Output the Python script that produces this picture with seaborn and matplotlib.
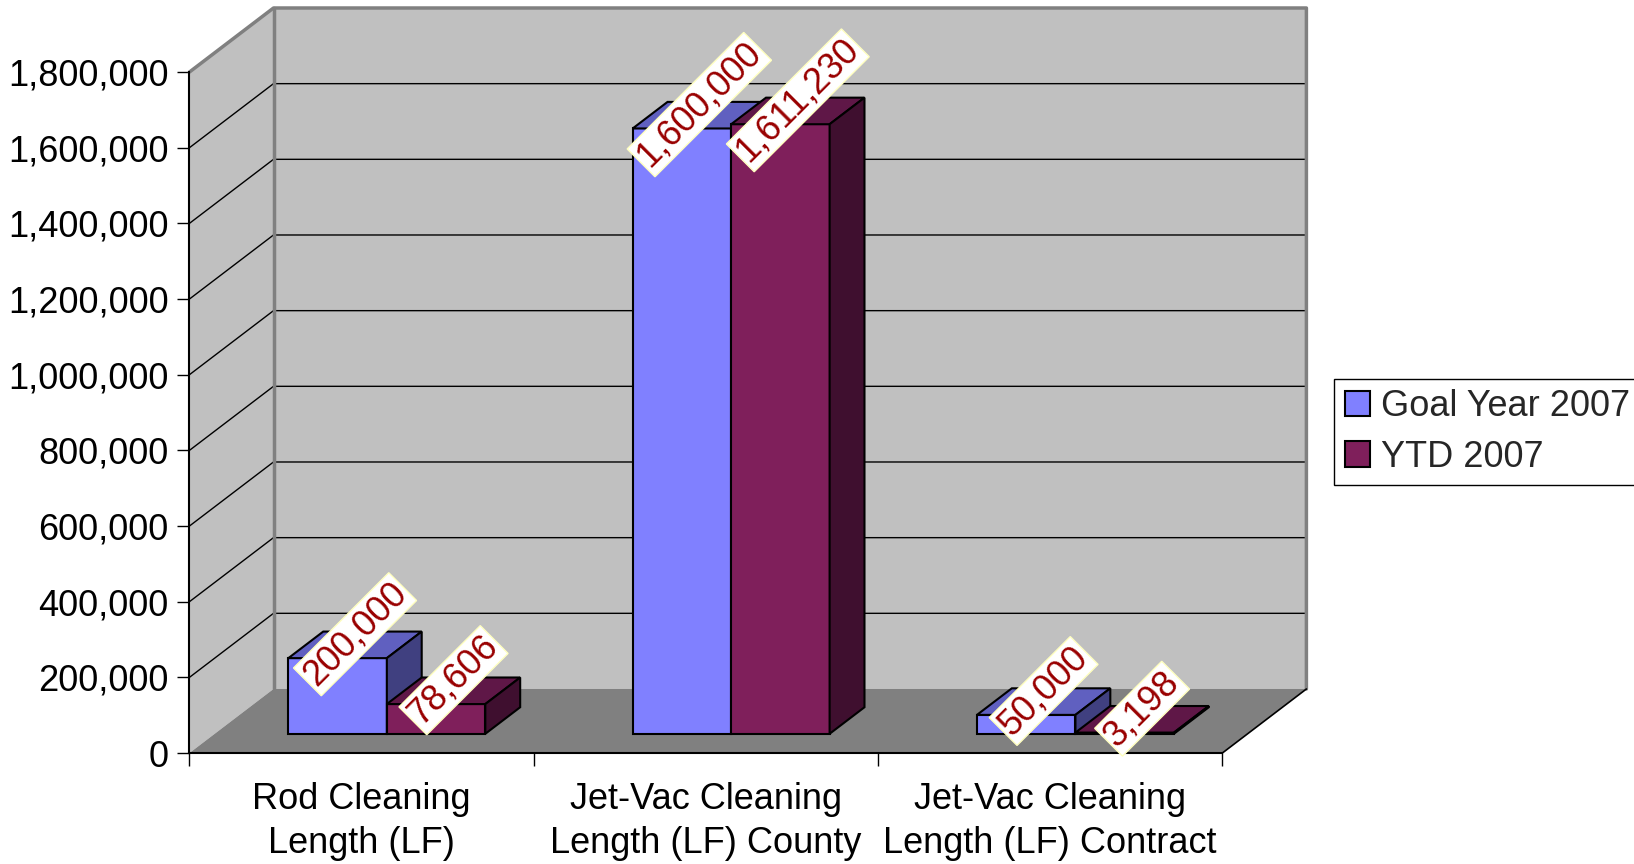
import numpy as np
import pandas as pd
import seaborn as sns
import matplotlib.pyplot as plt
from matplotlib.patches import Patch

categories = ["Rod Cleaning\nLength (LF)",
              "Jet-Vac Cleaning\nLength (LF) County",
              "Jet-Vac Cleaning\nLength (LF) Contract"]
series = ["Goal Year 2007", "YTD 2007"]
goal = [200000, 1600000, 50000]
ytd = [78606, 1611230, 3198]
yticks = list(range(0, 1800001, 200000))

front_colors = {"Goal Year 2007": "#8080FF", "YTD 2007": "#7F1F5B"}
top_colors = {"Goal Year 2007": "#6060C0", "YTD 2007": "#5F1747"}
side_colors = {"Goal Year 2007": "#404080", "YTD 2007": "#3F0F2F"}

df = pd.DataFrame({
    "category": categories * 2,
    "series": [series[0]] * 3 + [series[1]] * 3,
    "value": goal + ytd,
})

sns.set_style("white")
plt.rcParams['font.family'] = ['Liberation Sans', 'DejaVu Sans']

fig = plt.figure(figsize=(16.34, 8.64), dpi=100)
ax = fig.add_axes([0.11597, 0.12847, 0.63213, 0.78819])
ax.set_facecolor('none')

ymax = 1800000
x0, x1 = -0.5, 2.5
ddx, ddy = 0.244, 169200  # depth of the floor (front axis -> back wall)

# walls and floor
ax.fill([x0, x0 + ddx, x0 + ddx, x0], [0, ddy, ymax + ddy, ymax],
        color='#C0C0C0', lw=0, clip_on=False, zorder=0.5)
ax.fill([x0 + ddx, x1 + ddx, x1 + ddx, x0 + ddx], [ddy, ddy, ymax + ddy, ymax + ddy],
        color='#C0C0C0', lw=0, clip_on=False, zorder=0.5)
ax.fill([x0, x0 + ddx, x1 + ddx, x1], [0, ddy, ddy, 0],
        color='#808080', lw=0, clip_on=False, zorder=0.6)

for y in yticks[1:-1]:
    ax.plot([x0, x0 + ddx, x1 + ddx], [y, y + ddy, y + ddy],
            color='black', lw=1, clip_on=False, zorder=1)

ax.plot([x0, x0 + ddx, x1 + ddx, x1 + ddx], [ymax, ymax + ddy, ymax + ddy, ddy],
        color='#808080', lw=2.5, clip_on=False, zorder=1.1)
ax.plot([x0 + ddx, x0 + ddx], [ddy, ymax + ddy],
        color='#808080', lw=2.5, clip_on=False, zorder=1.1)
ax.plot([x1, x1 + ddx], [0, ddy], color='black', lw=1.2, clip_on=False, zorder=1.1)

# bars
sns.barplot(data=df, x="category", y="value", hue="series", order=categories,
            hue_order=series, palette=front_colors, saturation=1, width=0.572,
            edgecolor='black', linewidth=1.5, legend=False, ax=ax)

f0, f1 = 0.3, 0.715
bx, by = f0 * ddx, f0 * ddy
dx, dy = (f1 - f0) * ddx, (f1 - f0) * ddy

for k, (name, cont) in enumerate(zip(series, ax.containers)):
    for rect in cont:
        h = rect.get_height()
        w = rect.get_width()
        x = rect.get_x() + bx
        rect.set_x(x)
        rect.set_y(by)
        rect.set_zorder(3 + k)
        top = by + h
        ax.fill([x, x + dx, x + w + dx, x + w], [top, top + dy, top + dy, top],
                facecolor=top_colors[name], edgecolor='black', lw=1.5,
                clip_on=False, zorder=3 + k)
        ax.fill([x + w, x + w + dx, x + w + dx, x + w], [by, by + dy, top + dy, top],
                facecolor=side_colors[name], edgecolor='black', lw=1.5,
                clip_on=False, zorder=3 + k)
        ax.text(x + w / 2 + dx / 2, top + dy / 2 + 28000, f"{int(round(h)):,}",
                rotation=45, rotation_mode='anchor', ha='center', va='center',
                fontsize=26, color='#990000', zorder=10,
                bbox=dict(boxstyle='square,pad=0.06', fc='white', ec='#FFFFC0', lw=1))

ax.set_xlim(x0, x1)
ax.set_ylim(0, ymax)
ax.set_xlabel('')
ax.set_ylabel('')

ax.set_yticks(yticks, [f"{v:,}" for v in yticks])
ax.set_xticks([0, 1, 2], categories)
ax.set_xticks([-0.5, 0.5, 1.5, 2.5], minor=True)
ax.tick_params(axis='y', left=True, length=9, width=1, pad=6, labelsize=26, colors='black')
ax.tick_params(axis='x', which='major', length=0, pad=21, labelsize=26, colors='black')
ax.tick_params(axis='x', which='minor', bottom=True, length=9, width=1, colors='black')
for lab in ax.get_xticklabels():
    lab.set_linespacing(1.32)

for s in ['top', 'right']:
    ax.spines[s].set_visible(False)
for s in ['left', 'bottom']:
    ax.spines[s].set_color('black')
    ax.spines[s].set_linewidth(1.5)

handles = [Patch(facecolor=front_colors[s], edgecolor='black', lw=1.5) for s in series]
leg = fig.legend(handles=handles, labels=series, loc='center left',
                 bbox_to_anchor=(1334 / 1634, 1 - 432 / 864),
                 frameon=True, fancybox=False, edgecolor='black', framealpha=1,
                 fontsize=26, handlelength=0.7, handleheight=0.7, handletextpad=0.3,
                 labelspacing=0.42, borderpad=0.3, borderaxespad=0)
leg.get_frame().set_linewidth(1)

fig.savefig("out.png", dpi=100)
